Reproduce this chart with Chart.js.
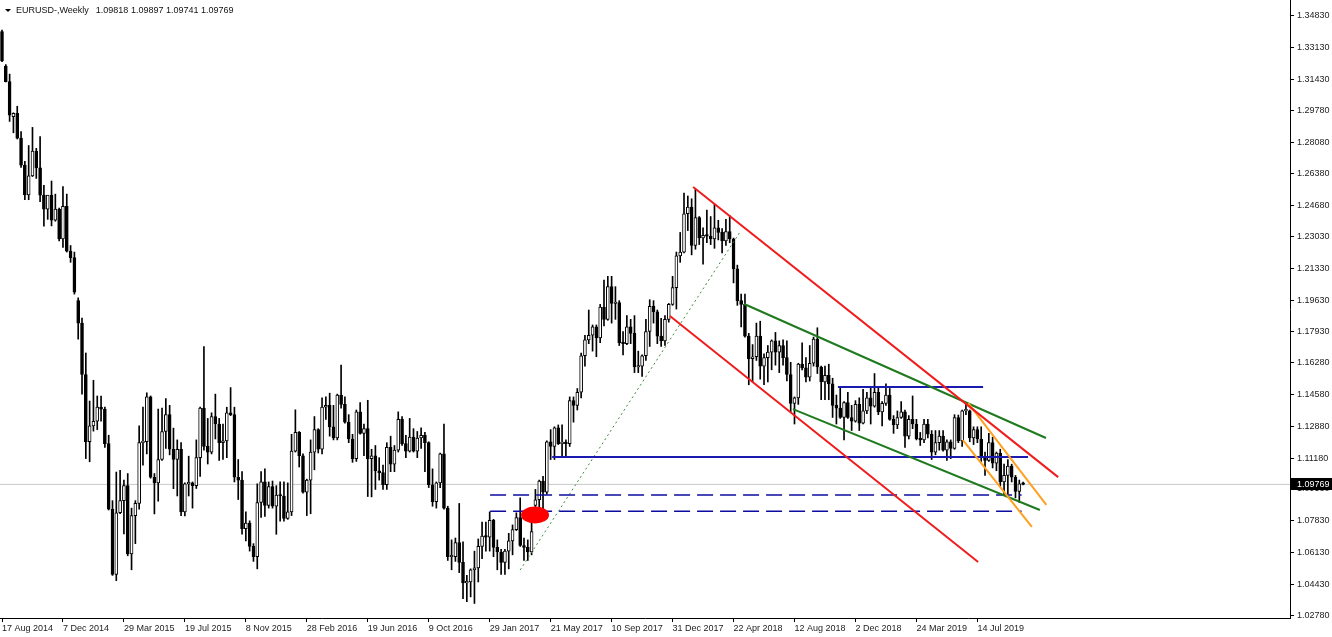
<!DOCTYPE html>
<html>
<head>
<meta charset="utf-8">
<script src="https://cdn.jsdelivr.net/npm/chart.js"></script>
<style>
  html, body { margin: 0; padding: 0; background: #fff; }
  canvas { display: block; }
</style>
</head>
<body>
<canvas id="eurusd" width="1332" height="637"></canvas>
<script>
(function () {
    'use strict';

    // ===== データ =====
    const symbolTitle = 'EURUSD-,Weekly';
    const lastQuote = [1.09818, 1.09897, 1.09741, 1.09769]; // O H L C of the open week

    // x軸ラベル (16週ごと)
    const xTickLabels = ['17 Aug 2014', '7 Dec 2014', '29 Mar 2015', '19 Jul 2015', '8 Nov 2015',
        '28 Feb 2016', '19 Jun 2016', '9 Oct 2016', '29 Jan 2017', '21 May 2017', '10 Sep 2017',
        '31 Dec 2017', '22 Apr 2018', '12 Aug 2018', '2 Dec 2018', '24 Mar 2019', '14 Jul 2019'];
    const LABEL_EVERY = 16;

    // y軸ラベル
    const yTickValues = [1.34830, 1.33130, 1.31430, 1.29780, 1.28080, 1.26380, 1.24680, 1.23030,
        1.21330, 1.19630, 1.17930, 1.16280, 1.14580, 1.12880, 1.11180, 1.09530, 1.07830, 1.06130,
        1.04430, 1.02780];

    // 週足 OHLC (17 Aug 2014 から)
    const opens = [
        1.3400, 1.3215, 1.3132, 1.2945, 1.2962, 1.2830, 1.2685, 1.2526, 1.2628, 1.2760,
        1.2670, 1.2525, 1.2450, 1.2525, 1.2390, 1.2450, 1.2290, 1.2465, 1.2225, 1.2190,
        1.1960, 1.1840, 1.1565, 1.1205, 1.1290, 1.1315, 1.1390, 1.1380, 1.1195, 1.0845,
        1.0495, 1.0825, 1.0890, 1.0970, 1.0605, 1.0810, 1.0875, 1.1200, 1.1205, 1.1445,
        1.1015, 1.0985, 1.1110, 1.1260, 1.1350, 1.1165, 1.1110, 1.1165, 1.0830, 1.0980,
        1.0985, 1.0970, 1.1120, 1.1385, 1.1180, 1.1150, 1.1340, 1.1300, 1.1200, 1.1210,
        1.1360, 1.1350, 1.1015, 1.1000, 1.0740, 1.0770, 1.0645, 1.0590, 1.0880, 1.0990,
        1.0865, 1.0965, 1.0860, 1.0920, 1.0915, 1.0795, 1.0830, 1.1155, 1.1255, 1.1130,
        1.0935, 1.1000, 1.1150, 1.1270, 1.1165, 1.1390, 1.1400, 1.1285, 1.1225, 1.1455,
        1.1405, 1.1310, 1.1220, 1.1115, 1.1365, 1.1250, 1.1275, 1.1115, 1.1130, 1.1050,
        1.1040, 1.0975, 1.1175, 1.1085, 1.1160, 1.1325, 1.1195, 1.1155, 1.1230, 1.1155,
        1.1225, 1.1240, 1.1200, 1.0975, 1.0885, 1.0985, 1.1140, 1.0850, 1.0590, 1.0590,
        1.0665, 1.0560, 1.0450, 1.0455, 1.0520, 1.0530, 1.0645, 1.0700, 1.0695, 1.0785,
        1.0640, 1.0615, 1.0560, 1.0620, 1.0675, 1.0735, 1.0800, 1.0650, 1.0640, 1.0615,
        1.0865, 1.0895, 1.0995, 1.0935, 1.1205, 1.1180, 1.1280, 1.1195, 1.1200, 1.1195,
        1.1425, 1.1400, 1.1470, 1.1665, 1.1750, 1.1775, 1.1820, 1.1760, 1.1925, 1.1860,
        1.2035, 1.1945, 1.1950, 1.1735, 1.1730, 1.1820, 1.1785, 1.1605, 1.1610, 1.1665,
        1.1795, 1.1930, 1.1900, 1.1770, 1.1745, 1.1860, 1.1940, 1.2030, 1.2200, 1.2220,
        1.2425, 1.2460, 1.2255, 1.2405, 1.2295, 1.2310, 1.2305, 1.2290, 1.2350, 1.2325,
        1.2280, 1.2330, 1.2290, 1.2130, 1.1960, 1.1940, 1.1770, 1.1650, 1.1660, 1.1770,
        1.1610, 1.1655, 1.1685, 1.1745, 1.1685, 1.1720, 1.1655, 1.1565, 1.1410, 1.1440,
        1.1620, 1.1600, 1.1550, 1.1625, 1.1755, 1.1605, 1.1525, 1.1560, 1.1515, 1.1400,
        1.1385, 1.1335, 1.1415, 1.1335, 1.1315, 1.1405, 1.1305, 1.1370, 1.1440, 1.1395,
        1.1470, 1.1365, 1.1410, 1.1455, 1.1325, 1.1295, 1.1335, 1.1365, 1.1235, 1.1325,
        1.1300, 1.1220, 1.1215, 1.1300, 1.1245, 1.1150, 1.1200, 1.1235, 1.1160, 1.1205,
        1.1170, 1.1335, 1.1210, 1.1370, 1.1370, 1.1225, 1.1270, 1.1220, 1.1125, 1.1105,
        1.1200, 1.1090, 1.1145, 1.0990, 1.1025, 1.1075, 1.1015, 1.0940, 1.09818
    ];
    const highs = [
        1.3408, 1.3223, 1.3172, 1.2965, 1.3000, 1.2865, 1.2705, 1.2790, 1.2887, 1.2775,
        1.2838, 1.2577, 1.2510, 1.2600, 1.2530, 1.2455, 1.2570, 1.2530, 1.2255, 1.2220,
        1.1975, 1.1867, 1.1680, 1.1423, 1.1534, 1.1450, 1.1450, 1.1390, 1.1240, 1.0890,
        1.1043, 1.1052, 1.1000, 1.1035, 1.0850, 1.0890, 1.1290, 1.1390, 1.1467, 1.1450,
        1.1035, 1.1380, 1.1385, 1.1436, 1.1400, 1.1278, 1.1215, 1.1200, 1.0985, 1.1128,
        1.0990, 1.1215, 1.1390, 1.1714, 1.1330, 1.1360, 1.1460, 1.1330, 1.1300, 1.1390,
        1.1495, 1.1390, 1.1110, 1.1045, 1.0830, 1.0782, 1.0660, 1.0980, 1.1045, 1.1060,
        1.0990, 1.0995, 1.0970, 1.0990, 1.0990, 1.0985, 1.1245, 1.1376, 1.1260, 1.1140,
        1.1005, 1.1215, 1.1340, 1.1275, 1.1440, 1.1445, 1.1465, 1.1400, 1.1460, 1.1615,
        1.1445, 1.1350, 1.1245, 1.1375, 1.1415, 1.1300, 1.1427, 1.1165, 1.1185, 1.1120,
        1.1080, 1.1200, 1.1235, 1.1185, 1.1365, 1.1340, 1.1240, 1.1330, 1.1275, 1.1260,
        1.1280, 1.1255, 1.1205, 1.1060, 1.0990, 1.1145, 1.1300, 1.0860, 1.0680, 1.0690,
        1.0875, 1.0670, 1.0490, 1.0525, 1.0620, 1.0685, 1.0775, 1.0775, 1.0830, 1.0790,
        1.0680, 1.0630, 1.0630, 1.0715, 1.0760, 1.0825, 1.0905, 1.0690, 1.0680, 1.0780,
        1.0950, 1.1000, 1.1020, 1.1210, 1.1270, 1.1285, 1.1295, 1.1295, 1.1215, 1.1445,
        1.1445, 1.1490, 1.1680, 1.1775, 1.1910, 1.1830, 1.1830, 1.1940, 1.2070, 1.2090,
        1.2090, 1.2035, 1.1960, 1.1795, 1.1880, 1.1860, 1.1880, 1.1690, 1.1670, 1.1860,
        1.1965, 1.1960, 1.1910, 1.1865, 1.1880, 1.1945, 1.2090, 1.2220, 1.2325, 1.2535,
        1.2520, 1.2505, 1.2556, 1.2410, 1.2350, 1.2445, 1.2410, 1.2475, 1.2390, 1.2345,
        1.2395, 1.2415, 1.2295, 1.2150, 1.1995, 1.1995, 1.1785, 1.1725, 1.1840, 1.1850,
        1.1675, 1.1720, 1.1750, 1.1790, 1.1745, 1.1750, 1.1745, 1.1630, 1.1445, 1.1625,
        1.1735, 1.1655, 1.1720, 1.1765, 1.1815, 1.1610, 1.1610, 1.1620, 1.1545, 1.1455,
        1.1500, 1.1420, 1.1470, 1.1400, 1.1425, 1.1440, 1.1485, 1.1470, 1.1500, 1.1570,
        1.1500, 1.1420, 1.1515, 1.1490, 1.1345, 1.1370, 1.1420, 1.1375, 1.1345, 1.1450,
        1.1325, 1.1255, 1.1325, 1.1325, 1.1265, 1.1265, 1.1265, 1.1265, 1.1215, 1.1215,
        1.1350, 1.1348, 1.1375, 1.1410, 1.1375, 1.1285, 1.1285, 1.1285, 1.1150, 1.1250,
        1.1230, 1.1150, 1.1165, 1.1085, 1.1110, 1.1085, 1.1025, 1.1000, 1.09897
    ];
    const lows = [
        1.3238, 1.3130, 1.2919, 1.2858, 1.2825, 1.2673, 1.2500, 1.2500, 1.2624, 1.2614,
        1.2490, 1.2358, 1.2395, 1.2360, 1.2385, 1.2280, 1.2245, 1.2220, 1.2165, 1.1995,
        1.1754, 1.1460, 1.1115, 1.1098, 1.1262, 1.1270, 1.1315, 1.1175, 1.0840, 1.0490,
        1.0462, 1.0820, 1.0712, 1.0595, 1.0520, 1.0660, 1.0845, 1.1080, 1.1140, 1.1010,
        1.0819, 1.0887, 1.1105, 1.1170, 1.1135, 1.0954, 1.0915, 1.0810, 1.0808, 1.0915,
        1.0850, 1.0955, 1.1020, 1.1160, 1.1086, 1.1140, 1.1220, 1.1105, 1.1110, 1.1120,
        1.1345, 1.0990, 1.0896, 1.0710, 1.0675, 1.0620, 1.0565, 1.0525, 1.0800, 1.0805,
        1.0850, 1.0850, 1.0710, 1.0780, 1.0780, 1.0790, 1.0810, 1.1150, 1.1070, 1.0930,
        1.0810, 1.0820, 1.1055, 1.1145, 1.1140, 1.1325, 1.1235, 1.1215, 1.1215, 1.1385,
        1.1305, 1.1200, 1.1095, 1.1100, 1.1245, 1.1130, 1.0912, 1.0910, 1.0950, 1.1000,
        1.0950, 1.0950, 1.1045, 1.1045, 1.1150, 1.1185, 1.1120, 1.1150, 1.1150, 1.1120,
        1.1170, 1.1045, 1.0960, 1.0860, 1.0850, 1.0960, 1.0845, 1.0570, 1.0520, 1.0565,
        1.0505, 1.0365, 1.0350, 1.0375, 1.0340, 1.0455, 1.0580, 1.0620, 1.0620, 1.0590,
        1.0520, 1.0495, 1.0495, 1.0525, 1.0600, 1.0730, 1.0645, 1.0570, 1.0570, 1.0600,
        1.0820, 1.0850, 1.0840, 1.0925, 1.1110, 1.1110, 1.1190, 1.1130, 1.1120, 1.1180,
        1.1310, 1.1375, 1.1440, 1.1610, 1.1730, 1.1690, 1.1660, 1.1735, 1.1825, 1.1855,
        1.1840, 1.1860, 1.1720, 1.1670, 1.1725, 1.1730, 1.1575, 1.1575, 1.1555, 1.1640,
        1.1715, 1.1840, 1.1730, 1.1715, 1.1720, 1.1845, 1.1935, 1.1915, 1.2165, 1.2215,
        1.2335, 1.2205, 1.2235, 1.2260, 1.2155, 1.2270, 1.2260, 1.2240, 1.2285, 1.2215,
        1.2255, 1.2270, 1.2055, 1.1935, 1.1820, 1.1765, 1.1510, 1.1525, 1.1640, 1.1540,
        1.1510, 1.1525, 1.1590, 1.1615, 1.1575, 1.1615, 1.1530, 1.1365, 1.1300, 1.1405,
        1.1590, 1.1525, 1.1530, 1.1610, 1.1570, 1.1430, 1.1430, 1.1430, 1.1335, 1.1300,
        1.1330, 1.1215, 1.1330, 1.1265, 1.1310, 1.1265, 1.1300, 1.1355, 1.1300, 1.1390,
        1.1350, 1.1290, 1.1400, 1.1320, 1.1250, 1.1275, 1.1330, 1.1175, 1.1220, 1.1275,
        1.1215, 1.1185, 1.1200, 1.1225, 1.1110, 1.1135, 1.1160, 1.1155, 1.1105, 1.1115,
        1.1165, 1.1200, 1.1180, 1.1350, 1.1205, 1.1190, 1.1200, 1.1100, 1.1025, 1.1100,
        1.1065, 1.1050, 1.0965, 1.0925, 1.0925, 1.0990, 1.0905, 1.0880, 1.09741
    ];
    const closes = [
        1.3242, 1.3132, 1.2952, 1.2962, 1.2830, 1.2685, 1.2526, 1.2628, 1.2760, 1.2670,
        1.2525, 1.2450, 1.2525, 1.2390, 1.2450, 1.2290, 1.2465, 1.2225, 1.2190, 1.2005,
        1.1840, 1.1565, 1.1205, 1.1290, 1.1315, 1.1390, 1.1380, 1.1195, 1.0845, 1.0495,
        1.0825, 1.0890, 1.0970, 1.0605, 1.0810, 1.0875, 1.1200, 1.1205, 1.1445, 1.1015,
        1.0985, 1.1110, 1.1260, 1.1350, 1.1165, 1.1110, 1.1165, 1.0830, 1.0980, 1.0985,
        1.0970, 1.1120, 1.1385, 1.1180, 1.1150, 1.1340, 1.1300, 1.1200, 1.1210, 1.1360,
        1.1350, 1.1015, 1.1000, 1.0740, 1.0770, 1.0645, 1.0590, 1.0880, 1.0990, 1.0865,
        1.0965, 1.0860, 1.0920, 1.0915, 1.0795, 1.0830, 1.1155, 1.1255, 1.1130, 1.0935,
        1.1000, 1.1150, 1.1270, 1.1165, 1.1390, 1.1400, 1.1285, 1.1225, 1.1455, 1.1405,
        1.1310, 1.1220, 1.1115, 1.1365, 1.1250, 1.1275, 1.1115, 1.1130, 1.1050, 1.1040,
        1.0975, 1.1175, 1.1085, 1.1160, 1.1325, 1.1195, 1.1155, 1.1230, 1.1155, 1.1225,
        1.1240, 1.1200, 1.0975, 1.0885, 1.0985, 1.1140, 1.0850, 1.0590, 1.0590, 1.0665,
        1.0560, 1.0450, 1.0455, 1.0520, 1.0530, 1.0645, 1.0700, 1.0695, 1.0785, 1.0640,
        1.0615, 1.0560, 1.0620, 1.0675, 1.0735, 1.0800, 1.0650, 1.0640, 1.0615, 1.0725,
        1.0895, 1.0995, 1.0935, 1.1205, 1.1180, 1.1280, 1.1195, 1.1200, 1.1195, 1.1425,
        1.1400, 1.1470, 1.1665, 1.1750, 1.1775, 1.1820, 1.1760, 1.1925, 1.1860, 1.2035,
        1.1945, 1.1950, 1.1735, 1.1730, 1.1820, 1.1785, 1.1605, 1.1610, 1.1665, 1.1795,
        1.1930, 1.1900, 1.1770, 1.1745, 1.1860, 1.1940, 1.2030, 1.2200, 1.2220, 1.2425,
        1.2460, 1.2255, 1.2405, 1.2295, 1.2310, 1.2305, 1.2290, 1.2350, 1.2325, 1.2280,
        1.2330, 1.2290, 1.2130, 1.1960, 1.1940, 1.1770, 1.1650, 1.1660, 1.1770, 1.1610,
        1.1655, 1.1685, 1.1745, 1.1685, 1.1720, 1.1655, 1.1565, 1.1410, 1.1440, 1.1620,
        1.1600, 1.1550, 1.1625, 1.1755, 1.1605, 1.1525, 1.1560, 1.1515, 1.1400, 1.1385,
        1.1335, 1.1415, 1.1335, 1.1315, 1.1405, 1.1305, 1.1370, 1.1440, 1.1395, 1.1470,
        1.1365, 1.1410, 1.1455, 1.1325, 1.1295, 1.1335, 1.1365, 1.1235, 1.1325, 1.1300,
        1.1220, 1.1215, 1.1300, 1.1245, 1.1150, 1.1200, 1.1235, 1.1160, 1.1205, 1.1170,
        1.1335, 1.1210, 1.1370, 1.1370, 1.1225, 1.1270, 1.1220, 1.1125, 1.1105, 1.1200,
        1.1090, 1.1145, 1.0990, 1.1025, 1.1075, 1.1015, 1.0940, 1.0980, 1.09769
    ];

    // 描画オブジェクト [週インデックス, 価格]
    const redChannel = [
        [[181.4, 1.2568], [277.2, 1.1016]],
        [[175.3, 1.1878], [256.2, 1.0562]]
    ];
    const greenChannel = [
        [[194.8, 1.1942], [274.0, 1.1225]],
        [[207.6, 1.1380], [272.4, 1.0840]]
    ];
    const blueLevels = [
        [[219.4, 1.1498], [257.5, 1.1498]],
        [[144.4, 1.1123], [269.3, 1.1123]]
    ];
    const blueDashedLevels = [
        [[128.1, 1.0920], [267.6, 1.0920]],
        [[128.1, 1.0833], [267.6, 1.0833]]
    ];
    const orangeChannel = [
        [[253.6, 1.1412], [274.1, 1.0867]],
        [[252.2, 1.1214], [270.3, 1.0749]]
    ];
    const dottedTrend = [[136.0, 1.0519], [193.7, 1.2327]];
    const redMarker = [139.9, 1.0813];

    // 表示範囲
    const X_MIN = -0.525, X_MAX = 338.05;
    const Y_MIN = 1.02621, Y_MAX = 1.35686;

    // ===== データセット =====
    function lineSet(points, color, width, dash) {
        return {
            type: 'line',
            data: points.map(p => ({ x: p[0], y: p[1] })),
            borderColor: color,
            borderWidth: width,
            borderDash: dash || [],
            pointRadius: 0,
            fill: false,
            tension: 0
        };
    }

    const datasets = [];
    redChannel.forEach(l => datasets.push(lineSet(l, '#f01c1c', 2)));
    orangeChannel.forEach(l => datasets.push(lineSet(l, '#ffa020', 2)));
    greenChannel.forEach(l => datasets.push(lineSet(l, '#1f7a1f', 2)));
    blueLevels.forEach(l => datasets.push(lineSet(l, '#1a1ab0', 2)));
    blueDashedLevels.forEach(l => datasets.push(lineSet(l, '#0c0ca0', 1.4, [16, 7])));
    datasets.push(lineSet(dottedTrend, '#3c8c3c', 1, [2, 3]));

    const bodies = opens.map((o, i) => ({ x: i, y: [Math.min(o, closes[i]), Math.max(o, closes[i])] }));
    const bodyColors = opens.map((o, i) => (closes[i] >= o ? '#ffffff' : '#000000'));
    const wicks = lows.map((l, i) => ({ x: i, y: [l, highs[i]] }));

    datasets.push({
        type: 'bar', data: bodies, backgroundColor: bodyColors, borderColor: '#000000',
        borderWidth: 1, borderSkipped: false, barThickness: 3, minBarLength: 1.5, grouped: false
    });
    datasets.push({
        type: 'bar', data: wicks, backgroundColor: '#000000', borderWidth: 0,
        barThickness: 1, grouped: false
    });
    datasets.push(lineSet([[X_MIN, lastQuote[3]], [X_MAX, lastQuote[3]]], '#c8c8c8', 1));

    const FONT = { family: '"Liberation Sans", Arial, sans-serif', size: 9 };

    // ヘッダー・価格ラベル・マーカー
    const decorPlugin = {
        id: 'decor',
        afterDatasetsDraw(chart) {
            const { ctx, scales } = chart;
            const cx = scales.x.getPixelForValue(redMarker[0]);
            const cy = scales.y.getPixelForValue(redMarker[1]);
            ctx.save();
            ctx.fillStyle = '#ff0000';
            ctx.beginPath();
            ctx.ellipse(cx, cy, 14, 8.5, 0, 0, Math.PI * 2);
            ctx.fill();
            ctx.restore();
        },
        afterDraw(chart) {
            const { ctx, chartArea, scales } = chart;
            ctx.save();
            // header
            ctx.fillStyle = '#000';
            ctx.beginPath();
            ctx.moveTo(5, 9); ctx.lineTo(11, 9); ctx.lineTo(8, 12); ctx.closePath();
            ctx.fill();
            ctx.font = '9px ' + FONT.family;
            ctx.textBaseline = 'middle';
            ctx.textAlign = 'left';
            ctx.fillStyle = '#111';
            ctx.fillText(symbolTitle, 16, 11);
            const w = ctx.measureText(symbolTitle).width;
            ctx.fillText(lastQuote.map(v => v.toFixed(5)).join(' '), 16 + w + 7, 11);

            // current price label
            const py = Math.round(scales.y.getPixelForValue(lastQuote[3]));
            ctx.fillStyle = '#000';
            ctx.fillRect(chartArea.right + 1, py - 6, 41, 12);
            ctx.fillStyle = '#fff';
            ctx.fillText(lastQuote[3].toFixed(5), chartArea.right + 7, py + 0.5);
            ctx.restore();
        }
    };

    // ===== チャート =====
    new Chart(document.getElementById('eurusd').getContext('2d'), {
        type: 'bar',
        data: { datasets },
        options: {
            responsive: false,
            animation: false,
            events: [],
            layout: { padding: 0 },
            plugins: { legend: { display: false }, tooltip: { enabled: false } },
            scales: {
                x: {
                    type: 'linear', min: X_MIN, max: X_MAX, offset: false,
                    grid: { display: true, offset: false, drawOnChartArea: false, drawTicks: true, tickLength: 4, color: '#000' },
                    border: { display: true, color: '#000' },
                    ticks: {
                        autoSkip: false, maxRotation: 0, align: 'start', padding: 1, color: '#222', font: FONT,
                        callback: (v, i) => xTickLabels[i]
                    },
                    afterBuildTicks: s => { s.ticks = xTickLabels.map((_, k) => ({ value: k * LABEL_EVERY })); },
                    afterFit: s => { s.height = 19; s.paddingLeft = 0; s.paddingRight = 0; }
                },
                y: {
                    type: 'linear', position: 'right', min: Y_MIN, max: Y_MAX,
                    grid: { display: true, drawOnChartArea: false, drawTicks: true, tickLength: 4, color: '#000' },
                    border: { display: true, color: '#000' },
                    ticks: {
                        autoSkip: false, padding: 3, color: '#222', font: FONT,
                        callback: v => Number(v).toFixed(5)
                    },
                    afterBuildTicks: s => { s.ticks = yTickValues.map(v => ({ value: v })); },
                    afterFit: s => { s.width = 42; s.paddingTop = 0; s.paddingBottom = 0; }
                }
            }
        },
        plugins: [decorPlugin]
    });
})();
</script>
</body>
</html>
